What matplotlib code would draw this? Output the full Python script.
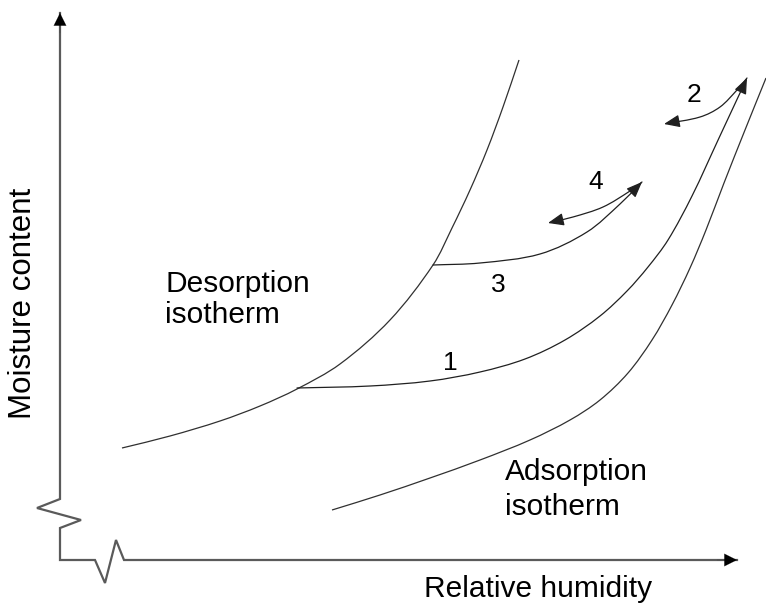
import numpy as np
import matplotlib.pyplot as plt
from matplotlib.path import Path
from matplotlib.patches import PathPatch, FancyArrowPatch

plt.rcParams['font.family'] = ['Liberation Sans', 'DejaVu Sans']

# sketch coordinates (x to the right, y downwards)
desorption_x = [122, 170, 220, 260, 297, 340, 390, 433, 452, 470, 487, 503, 519]
desorption_y = [448, 436, 421, 406, 389, 364, 320, 265, 228, 190, 150, 107, 60]

adsorption_x = [332, 380, 430, 480, 530, 570, 600, 628, 652, 672, 690, 706, 724, 745, 766]
adsorption_y = [510, 495, 478, 460, 440, 420, 400, 373, 340, 305, 268, 230, 183, 130, 78]

# scanning curves
scan1_x = [297, 370, 430, 480, 525, 565, 600, 627, 648, 668, 692, 719, 747]
scan1_y = [388, 386, 381, 372, 359, 340, 316, 291, 267, 240, 196, 138, 78]
scan2_x = [747, 737, 720, 700, 664]
scan2_y = [78, 90, 107, 117, 124]
scan3_x = [433, 480, 540, 587, 620, 642]
scan3_y = [265, 263, 254, 232, 204, 182]
scan4_x = [642, 630, 603, 573, 548]
scan4_y = [182, 191, 207, 217, 223]

scan_labels = ["1", "2", "3", "4"]
scan_label_x = [450, 694, 498, 596]
scan_label_y = [363, 95, 285, 182]

# axes with break marks
axis_x = [60, 60, 37, 81, 60, 60, 95, 105, 116, 124, 737]
axis_y = [13, 499, 508, 520, 528, 560, 560, 583, 540, 560, 560]


def smooth_path(xs, ys):
    # cubic Bezier through the points, tangents from chord lengths
    pts = np.column_stack([xs, ys]).astype(float)
    n = len(pts)
    seg = np.linalg.norm(np.diff(pts, axis=0), axis=1)
    tang = np.zeros_like(pts)
    tang[0] = (pts[1] - pts[0]) / seg[0]
    tang[-1] = (pts[-1] - pts[-2]) / seg[-1]
    for i in range(1, n - 1):
        tang[i] = (pts[i + 1] - pts[i - 1]) / (seg[i - 1] + seg[i])
    verts = [pts[0]]
    codes = [Path.MOVETO]
    for i in range(n - 1):
        d = seg[i] / 3.0
        verts += [pts[i] + tang[i] * d, pts[i + 1] - tang[i + 1] * d, pts[i + 1]]
        codes += [Path.CURVE4] * 3
    return Path(verts, codes)


fig = plt.figure(figsize=(7.66, 6.06), dpi=100)
ax = fig.add_axes([0, 0, 1, 1])
ax.set_xlim(0, 766)
ax.set_ylim(606, 0)
ax.axis('off')

# axes
ax.plot(axis_x, axis_y, color='#5a5a5a', lw=1.6, solid_joinstyle='miter')
ax.annotate('', xy=(axis_x[0], axis_y[0]), xytext=(axis_x[0], axis_y[0] + 20),
            arrowprops=dict(arrowstyle='-|>,head_length=0.9,head_width=0.45',
                            color='black', lw=0.1, shrinkA=0, shrinkB=0))
ax.annotate('', xy=(axis_x[-1], axis_y[-1]), xytext=(axis_x[-1] - 20, axis_y[-1]),
            arrowprops=dict(arrowstyle='-|>,head_length=0.9,head_width=0.45',
                            color='black', lw=0.1, shrinkA=0, shrinkB=0))

line_kw = dict(edgecolor='#303030', facecolor='none', lw=0.9)
for xs, ys in [(desorption_x, desorption_y), (adsorption_x, adsorption_y)]:
    ax.add_patch(PathPatch(smooth_path(xs, ys), **line_kw))

for xs, ys in [(scan1_x, scan1_y), (scan2_x, scan2_y),
               (scan3_x, scan3_y), (scan4_x, scan4_y)]:
    arr = FancyArrowPatch(path=smooth_path(xs, ys),
                          arrowstyle='-|>,head_length=0.8,head_width=0.32',
                          mutation_scale=12, color='#202020', lw=0.9,
                          shrinkA=0, shrinkB=0)
    ax.add_patch(arr)

for lab, x, y in zip(scan_labels, scan_label_x, scan_label_y):
    ax.text(x, y, lab, fontsize=19, ha='center', va='center', color='black')

ax.text(165, 292, "Desorption", fontsize=21.5, ha='left', va='baseline')
ax.text(165, 323, "isotherm", fontsize=21.5, ha='left', va='baseline')
ax.text(505, 480, "Adsorption", fontsize=21.5, ha='left', va='baseline')
ax.text(505, 515, "isotherm", fontsize=21.5, ha='left', va='baseline')

ax.text(538, 597, "Relative humidity", fontsize=21.5, ha='center', va='baseline')
ax.text(23, 303, "Moisture content", fontsize=22.5, ha='center', va='center',
        rotation=90)

fig.savefig("out.png", dpi=100)
